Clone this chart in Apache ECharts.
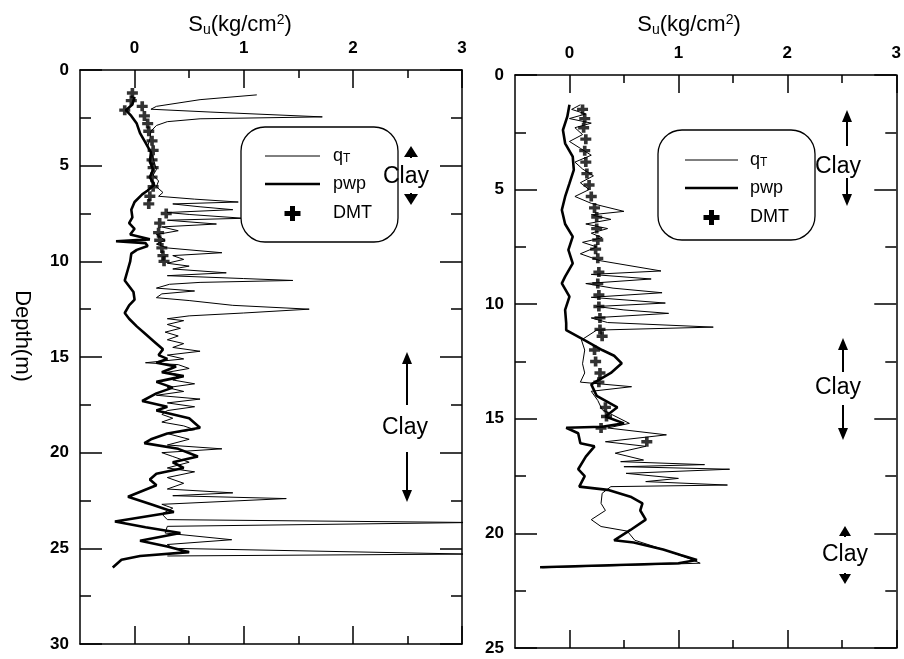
<!DOCTYPE html>
<html>
<head>
<meta charset="utf-8">
<script src="https://cdn.jsdelivr.net/npm/echarts@6/dist/echarts.min.js"></script>
<style>
  html, body { margin: 0; padding: 0; background: #fff; }
  #main { width: 904px; height: 659px; }
</style>
</head>
<body>
<div id="main"></div>
<script>
// tick values (Su, kg/cm2)
var suTicks = [0, 1, 2, 3];
var suMinorTicks = [0.5, 1.5, 2.5];

// left profile, [Su, depth]
var qtLeft = [
  [1.12, 1.3], [0.6, 1.55], [0.2, 1.9], [0.15, 2.05], [0.7, 2.2], [1.72, 2.45], [0.6, 2.55], [0.3, 2.7],
  [0.2, 2.9], [0.15, 3.2], [0.14, 3.6], [0.12, 4.0], [0.16, 4.4], [0.18, 4.8], [0.2, 5.2], [0.17, 5.5],
  [0.22, 5.8], [0.2, 6.1], [0.26, 6.4], [0.22, 6.6], [0.55, 6.75], [0.95, 6.9], [0.35, 7.0], [0.6, 7.15],
  [0.9, 7.3], [0.3, 7.45], [0.5, 7.55], [1.0, 7.75], [0.3, 7.85], [0.75, 8.05], [0.25, 8.2], [0.4, 8.4],
  [0.2, 8.6], [0.28, 8.9], [0.2, 9.1], [0.3, 9.3], [0.8, 9.55], [0.35, 9.7], [0.45, 9.9], [0.3, 10.1],
  [0.5, 10.25], [0.35, 10.4], [0.84, 10.6], [0.3, 10.75], [1.0, 10.9], [1.45, 11.0], [0.6, 11.1], [0.32, 11.2],
  [0.2, 11.4], [0.55, 11.55], [0.25, 11.7], [0.2, 11.9], [0.5, 12.05], [0.9, 12.3], [1.6, 12.5], [1.0, 12.7],
  [0.5, 12.85], [0.3, 13.0], [0.45, 13.1], [0.3, 13.3], [0.42, 13.5], [0.28, 13.7], [0.4, 13.9], [0.3, 14.1],
  [0.45, 14.3], [0.35, 14.5], [0.6, 14.7], [0.3, 14.9], [0.45, 15.1], [0.1, 15.3], [0.4, 15.4], [0.5, 15.6],
  [0.3, 15.8], [0.45, 16.0], [0.35, 16.2], [0.55, 16.4], [0.3, 16.6], [0.45, 16.8], [0.2, 17.0], [0.6, 17.2],
  [0.3, 17.4], [0.55, 17.6], [0.3, 17.8], [0.25, 18.0], [0.35, 18.2], [0.25, 18.4], [0.45, 18.6], [0.55, 18.8],
  [0.3, 19.0], [0.5, 19.3], [0.3, 19.6], [0.8, 19.8], [0.25, 20.0], [0.35, 20.2], [0.5, 20.5], [0.3, 20.8],
  [0.55, 21.0], [0.3, 21.3], [0.45, 21.6], [0.3, 21.9], [0.9, 22.1], [0.35, 22.25], [1.39, 22.4], [0.25, 22.7],
  [0.35, 22.9], [0.25, 23.2], [0.3, 23.5], [3.1, 23.65], [0.3, 23.85], [0.28, 24.2], [0.89, 24.55], [0.3, 24.8],
  [0.35, 25.0], [3.05, 25.3], [0.3, 25.4]
];
var pwpLeft = [
  [0.0, 1.4], [-0.02, 1.8], [-0.08, 2.1], [-0.03, 2.4], [0.02, 2.8], [0.05, 3.3], [0.1, 3.8], [0.15, 4.3],
  [0.14, 4.8], [0.17, 5.2], [0.14, 5.6], [0.18, 6.0], [0.12, 6.3], [0.07, 6.5], [0.0, 6.9], [-0.03, 7.3],
  [-0.02, 7.7], [-0.05, 8.0], [0.0, 8.3], [-0.04, 8.6], [0.14, 8.85], [-0.17, 8.95], [0.1, 9.05], [0.12, 9.2],
  [0.02, 9.4], [-0.03, 9.6], [-0.04, 10.0], [-0.06, 10.4], [-0.08, 10.8], [-0.09, 11.0], [-0.05, 11.3], [-0.01, 11.6],
  [0.0, 12.0], [-0.05, 12.3], [-0.09, 12.7], [-0.05, 13.0], [0.02, 13.4], [0.1, 13.8], [0.18, 14.2], [0.26, 14.6],
  [0.22, 14.9], [0.3, 15.1], [0.2, 15.3], [0.38, 15.5], [0.25, 15.8], [0.45, 16.0], [0.2, 16.3], [0.35, 16.6],
  [0.2, 16.9], [0.07, 17.3], [0.3, 17.6], [0.2, 17.8], [0.5, 18.2], [0.6, 18.7], [0.3, 19.0], [0.15, 19.3],
  [0.09, 19.5], [0.4, 19.8], [0.58, 20.2], [0.35, 20.5], [0.45, 20.8], [0.2, 21.1], [0.14, 21.4], [0.2, 21.7],
  [-0.06, 22.3], [0.15, 22.7], [0.36, 23.1], [-0.18, 23.6], [0.1, 23.9], [0.42, 24.2], [0.05, 24.6], [0.3, 24.9],
  [0.5, 25.2], [0.05, 25.4], [-0.12, 25.6], [-0.2, 26.0]
];
var dmtLeft = [
  [-0.02, 1.2], [-0.03, 1.6], [-0.09, 2.1], [0.07, 1.9], [0.09, 2.4], [0.12, 2.8], [0.13, 3.2], [0.16, 3.7],
  [0.17, 4.2], [0.16, 4.7], [0.17, 5.1], [0.16, 5.6], [0.17, 6.1], [0.14, 6.6], [0.13, 7.0], [0.29, 7.5],
  [0.23, 8.0], [0.22, 8.5], [0.23, 8.9], [0.25, 9.3], [0.26, 9.7], [0.27, 10.0]
];

// right profile, [Su, depth]
var qtRight = [
  [0.1, 1.3], [0.02, 1.5], [0.15, 1.7], [0.0, 1.9], [0.2, 2.1], [0.05, 2.3], [0.12, 2.6], [0.0, 2.9],
  [0.1, 3.2], [0.2, 3.5], [0.05, 3.8], [0.12, 4.1], [0.22, 4.4], [0.1, 4.7], [0.18, 5.0], [0.05, 5.3],
  [0.2, 5.6], [0.5, 5.95], [0.2, 6.1], [0.38, 6.3], [0.15, 6.5], [0.35, 6.7], [0.2, 6.9], [0.3, 7.1],
  [0.12, 7.3], [0.25, 7.5], [0.1, 7.8], [0.28, 8.1], [0.84, 8.55], [0.2, 8.7], [0.75, 8.9], [0.15, 9.1],
  [0.4, 9.3], [0.85, 9.5], [0.2, 9.7], [0.88, 9.95], [0.25, 10.1], [0.5, 10.25], [0.91, 10.4], [0.2, 10.6],
  [0.35, 10.8], [1.32, 11.0], [0.25, 11.13], [0.11, 11.56], [0.14, 12.0], [0.12, 12.6], [0.14, 13.0], [0.1, 13.4],
  [0.57, 13.6], [0.2, 13.8], [0.26, 14.2], [0.3, 14.6], [0.55, 15.2], [0.35, 15.4], [0.89, 15.7], [0.33, 16.0],
  [0.7, 16.2], [0.42, 16.5], [0.68, 16.8], [0.47, 16.87], [1.24, 17.0], [0.5, 17.09], [1.47, 17.2], [0.52, 17.38],
  [1.0, 17.6], [0.7, 17.74], [1.45, 17.89], [0.38, 17.96], [0.3, 18.25], [0.29, 18.69], [0.33, 19.0], [0.2, 19.4],
  [0.29, 19.7], [0.53, 19.9], [0.6, 20.3], [0.86, 20.7], [1.1, 21.1], [1.2, 21.3], [-0.25, 21.5]
];
var pwpRight = [
  [0.0, 1.3], [-0.02, 1.82], [-0.06, 2.4], [-0.04, 2.98], [0.03, 3.56], [0.04, 4.14], [0.0, 4.73], [-0.04, 5.31],
  [-0.07, 5.89], [-0.04, 6.5], [0.03, 7.05], [-0.01, 7.63], [0.03, 8.22], [-0.04, 8.8], [-0.07, 9.09], [0.0, 9.67],
  [-0.04, 10.25], [-0.03, 10.83], [-0.03, 11.13], [0.15, 11.6], [0.3, 12.0], [0.41, 12.25], [0.48, 12.58], [0.38, 13.0],
  [0.2, 13.5], [0.25, 14.0], [0.44, 14.5], [0.33, 14.9], [0.5, 15.2], [0.3, 15.35], [-0.03, 15.39], [0.08, 15.63],
  [0.1, 16.07], [0.23, 16.2], [0.15, 16.65], [0.08, 17.2], [0.14, 17.5], [0.09, 17.96], [0.35, 18.1], [0.56, 18.4],
  [0.67, 18.69], [0.65, 19.0], [0.7, 19.4], [0.56, 19.85], [0.41, 20.3], [0.59, 20.4], [0.86, 20.7], [1.02, 20.94],
  [1.17, 21.16], [1.0, 21.3], [-0.27, 21.48]
];
var dmtRight = [
  [0.12, 1.5], [0.14, 1.9], [0.13, 2.3], [0.15, 2.8], [0.14, 3.3], [0.15, 3.8], [0.16, 4.3], [0.18, 4.8],
  [0.2, 5.3], [0.23, 5.8], [0.25, 6.2], [0.25, 6.7], [0.26, 7.2], [0.24, 7.6], [0.26, 8.0], [0.27, 8.6],
  [0.26, 9.1], [0.27, 9.6], [0.27, 10.1], [0.28, 10.6], [0.28, 11.1], [0.3, 11.4], [0.23, 12.0], [0.24, 12.5],
  [0.28, 13.0], [0.27, 13.4], [0.33, 14.5], [0.34, 14.9], [0.29, 15.4], [0.71, 16.0]
];

var black = '#000';
var plusPath = 'path://M4,0H8V4H12V8H8V12H4V8H0V4H4Z';

function xAxes(gridIndex) {
  var make = function(position, values, len, withLine, withLabel) {
    return {
      type: 'value', gridIndex: gridIndex, position: position,
      min: -0.5, max: 3,
      axisLine: { show: withLine, onZero: false, lineStyle: { color: black, width: 1.5 } },
      axisTick: { show: true, inside: true, length: len, customValues: values, lineStyle: { color: black, width: 1.5 } },
      axisLabel: {
        show: withLabel, customValues: values, margin: 13, color: black,
        fontSize: 17, fontWeight: 'bold', fontFamily: 'Liberation Sans'
      },
      splitLine: { show: false }
    };
  };
  return [
    make('top', suTicks, 18, true, true),
    make('top', suMinorTicks, 8, false, false),
    make('bottom', suTicks, 18, true, false),
    make('bottom', suMinorTicks, 8, false, false)
  ];
}

function yAxes(gridIndex, maxDepth) {
  var make = function(position, withLabel) {
    return {
      type: 'value', gridIndex: gridIndex, position: position, inverse: true,
      min: 0, max: maxDepth, interval: 5,
      axisLine: { show: true, onZero: false, lineStyle: { color: black, width: 1.5 } },
      axisTick: { show: true, inside: true, length: 22, lineStyle: { color: black, width: 1.5 } },
      minorTick: { show: true, splitNumber: 2, length: 11, lineStyle: { color: black, width: 1.5 } },
      axisLabel: {
        show: withLabel, margin: 11, color: black,
        fontSize: 17, fontWeight: 'bold', fontFamily: 'Liberation Sans'
      },
      splitLine: { show: false },
      minorSplitLine: { show: false }
    };
  };
  return [make('left', true), make('right', false)];
}

function profileSeries(xIdx, yIdx, qt, pwp, dmt) {
  return [{
    name: 'qT', type: 'line', xAxisIndex: xIdx, yAxisIndex: yIdx, data: qt,
    symbol: 'none', showSymbol: false, clip: false,
    lineStyle: { color: black, width: 1 }, z: 3
  }, {
    name: 'pwp', type: 'line', xAxisIndex: xIdx, yAxisIndex: yIdx, data: pwp,
    symbol: 'none', showSymbol: false, clip: false,
    lineStyle: { color: black, width: 2.6 }, z: 4
  }, {
    name: 'DMT', type: 'scatter', xAxisIndex: xIdx, yAxisIndex: yIdx, data: dmt,
    symbol: plusPath, symbolSize: [11, 10],
    itemStyle: { color: black }, z: 5
  }];
}

function arrow(x, yFrom, yTip, half, head) {
  var dir = yTip < yFrom ? -1 : 1;
  var base = yTip - dir * head;
  var els = [{
    type: 'polygon', z: 100,
    shape: { points: [[x, yTip], [x - half, base], [x + half, base]] },
    style: { fill: black }
  }];
  if (Math.abs(yFrom - base) > 0.5) {
    els.push({
      type: 'line', z: 100,
      shape: { x1: x, y1: yFrom, x2: x, y2: base },
      style: { stroke: black, lineWidth: 2 }
    });
  }
  return els;
}

function label(x, y, text, size) {
  return {
    type: 'text', z: 100, x: x, y: y,
    style: {
      text: text, fill: black, align: 'center', verticalAlign: 'middle',
      font: size + 'px "Liberation Sans", Arial, sans-serif'
    }
  };
}

function suTitle(x, y) {
  return {
    type: 'text', z: 100, x: x, y: y,
    style: {
      text: '{a|S}{b|u}{a|(kg/cm}{c|2}{a|)}',
      align: 'center', verticalAlign: 'middle',
      rich: {
        a: { fontSize: 22, fontFamily: 'Liberation Sans', fill: black, lineHeight: 24 },
        b: { fontSize: 14, fontFamily: 'Liberation Sans', fill: black, verticalAlign: 'bottom', lineHeight: 14 },
        c: { fontSize: 14, fontFamily: 'Liberation Sans', fill: black, verticalAlign: 'top', lineHeight: 14 }
      }
    }
  };
}

function legendBox(x, y, w, h, lx0, lx1, ty, labelX) {
  return [{
    type: 'rect', z: 90,
    shape: { x: x, y: y, width: w, height: h, r: 24 },
    style: { fill: '#fff', stroke: black, lineWidth: 1.3 }
  }, {
    type: 'line', z: 100,
    shape: { x1: lx0, y1: ty, x2: lx1, y2: ty },
    style: { stroke: black, lineWidth: 1 }
  }, {
    type: 'line', z: 100,
    shape: { x1: lx0, y1: ty + 28, x2: lx1, y2: ty + 28 },
    style: { stroke: black, lineWidth: 2.6 }
  }, {
    type: 'rect', z: 100,
    shape: { x: (lx0 + lx1) / 2 - 8, y: ty + 55, width: 16, height: 5 },
    style: { fill: black }
  }, {
    type: 'rect', z: 100,
    shape: { x: (lx0 + lx1) / 2 - 2.5, y: ty + 50, width: 5, height: 15 },
    style: { fill: black }
  }, {
    type: 'text', z: 100, x: labelX, y: ty,
    style: {
      text: 'q{s|T}', verticalAlign: 'middle',
      font: '18px "Liberation Sans", Arial, sans-serif', fill: black,
      rich: { s: { fontSize: 12, fontFamily: 'Liberation Sans', fill: black, verticalAlign: 'bottom', lineHeight: 12 } }
    }
  }, {
    type: 'text', z: 100, x: labelX, y: ty + 28,
    style: { text: 'pwp', verticalAlign: 'middle', font: '18px "Liberation Sans", Arial, sans-serif', fill: black }
  }, {
    type: 'text', z: 100, x: labelX, y: ty + 57,
    style: { text: 'DMT', verticalAlign: 'middle', font: '18px "Liberation Sans", Arial, sans-serif', fill: black }
  }];
}

var graphics = [].concat(
  suTitle(240, 25),
  suTitle(689, 25),
  [{
    type: 'text', z: 100, x: 22, y: 336, rotation: -Math.PI / 2,
    style: {
      text: 'Depth(m)', fill: black, align: 'center', verticalAlign: 'middle',
      font: '22px "Liberation Sans", Arial, sans-serif'
    }
  }],
  legendBox(241, 127, 157, 115, 265, 320, 156, 333),
  legendBox(658, 130, 157, 110, 685, 738, 160, 750),
  // left panel clay annotations
  label(406, 177, 'Clay', 23),
  arrow(411, 158, 146, 7, 11),
  arrow(411, 193, 205, 7, 11),
  label(405, 428, 'Clay', 23),
  arrow(407, 405, 352, 5, 12),
  arrow(407, 452, 502, 5, 12),
  // right panel clay annotations
  label(838, 167, 'Clay', 23),
  arrow(847, 146, 110, 5, 12),
  arrow(847, 178, 206, 5, 12),
  label(838, 388, 'Clay', 23),
  arrow(843, 372, 338, 5, 12),
  arrow(843, 405, 440, 5, 12),
  label(845, 555, 'Clay', 23),
  arrow(845, 537, 526, 6, 10),
  arrow(845, 573, 584, 6, 10)
);

var chart = echarts.init(document.getElementById('main'));
var option = {
  animation: false,
  backgroundColor: '#fff',
  grid: [
    { left: 80, top: 70, width: 382, height: 574 },
    { left: 515, top: 75, width: 384, height: 573 }
  ],
  xAxis: xAxes(0).concat(xAxes(1)),
  yAxis: yAxes(0, 30).concat(yAxes(1, 25)),
  series: profileSeries(0, 0, qtLeft, pwpLeft, dmtLeft).concat(profileSeries(4, 2, qtRight, pwpRight, dmtRight)),
  graphic: graphics
};
chart.setOption(option);
</script>
</body>
</html>
